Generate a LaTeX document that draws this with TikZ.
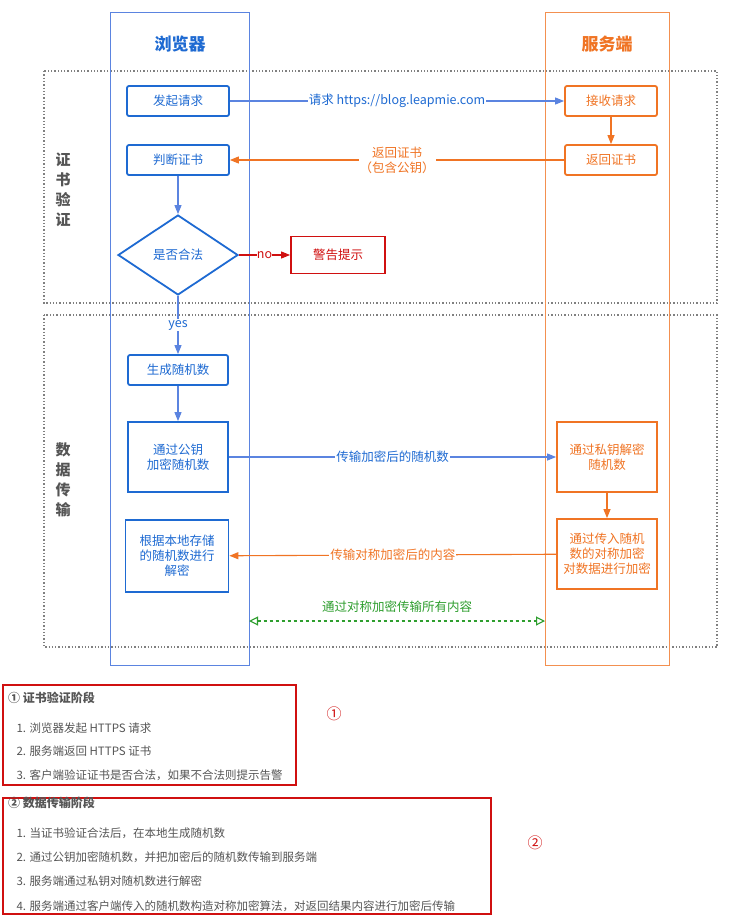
\documentclass[tikz,border=0pt]{standalone}
\usepackage{fontspec}
\setmainfont{Noto Sans CJK SC}
\usetikzlibrary{shapes.geometric,arrows.meta}
\definecolor{bl}{HTML}{1E6AD2}
\definecolor{lane}{HTML}{5B84E0}
\definecolor{og}{HTML}{F07424}
\definecolor{rd}{HTML}{D01010}
\definecolor{gn}{HTML}{2E9E2E}
\definecolor{tx}{HTML}{555555}
\begin{document}
\begin{tikzpicture}[x=1pt,y=-1pt,>={Triangle[length=9pt,width=7pt]},
  bbox/.style={draw=bl,line width=1.8pt,text=bl,font=\fontsize{12.5}{15}\selectfont,align=center,rounded corners=2pt},
  obox/.style={draw=og,line width=1.8pt,text=og,font=\fontsize{12.5}{15}\selectfont,align=center,rounded corners=2pt},
  lbl/.style={fill=white,inner sep=1pt,font=\fontsize{12.5}{15}\selectfont,align=center},
  dots/.style={draw=gray,dotted,line width=1.3pt},
  conn/.style={->,line width=1.1pt},
  item/.style={anchor=west,text=tx,font=\fontsize{11.5}{13}\selectfont},
  head/.style={anchor=west,text=tx,font=\fontsize{12}{14}\selectfont\bfseries}]
\useasboundingbox (0,0) rectangle (748,918);
\fill[white] (0,0) rectangle (748,918);
% phases
\draw[dots] (44,71) rectangle (717,303);
\draw[dots] (44,315) rectangle (717,647);
\node[text=tx,font=\fontsize{15}{20}\selectfont\bfseries,align=center] (p1) at (63,190) {证\\书\\验\\证};
\node[text=tx,font=\fontsize{15}{20}\selectfont\bfseries,align=center] (p2) at (63,480) {数\\据\\传\\输};
% lanes
\draw[lane,line width=1pt] (110,12) rectangle (249,665);
\draw[og!80,line width=1pt] (545,12) rectangle (669,665);
\node[text=bl,font=\fontsize{17}{20}\selectfont\bfseries] (t1) at (180,44) {浏览器};
\node[text=og,font=\fontsize{17}{20}\selectfont\bfseries] (t2) at (607,44) {服务端};
% browser
\node[bbox,minimum width=102,minimum height=30] (fq) at (178,101) {发起请求};
\node[bbox,minimum width=102,minimum height=30] (pd) at (178,160) {判断证书};
\node[draw=bl,line width=1.8pt,text=bl,diamond,aspect=1.5,minimum width=120,minimum height=80,inner sep=0,font=\fontsize{12.5}{15}\selectfont] (hf) at (178,255) {是否合法};
\node[draw=rd,line width=1.8pt,text=rd,minimum width=94,minimum height=37,font=\fontsize{12.5}{15}\selectfont] (jg) at (338,255) {警告提示};
\node[bbox,minimum width=100,minimum height=30] (sc) at (178,370) {生成随机数};
\node[bbox,rounded corners=0,minimum width=100,minimum height=70] (jm) at (178,457) {通过公钥\\加密随机数};
\node[bbox,rounded corners=0,minimum width=103,minimum height=72] (gj) at (177,556) {根据本地存储\\的随机数进行\\解密};
% server
\node[obox,minimum width=92,minimum height=30] (js) at (611,101) {接收请求};
\node[obox,minimum width=92,minimum height=30] (fh) at (611,160) {返回证书};
\node[obox,rounded corners=0,minimum width=100,minimum height=70] (sy) at (607,457) {通过私钥解密\\随机数};
\node[obox,rounded corners=0,minimum width=100,minimum height=70] (dc) at (607,554) {通过传入随机\\数的对称加密\\对数据进行加密};
% connectors
\draw[conn,lane] (fq) -- node[lbl,text=bl]{请求 https://blog.leapmie.com} (js);
\draw[conn,og] (js) -- (fh);
\draw[conn,og] (fh) -- node[lbl,text=og]{返回证书\\（包含公钥）} (pd);
\draw[conn,lane] (pd) -- (hf);
\draw[conn,rd] (hf) -- node[lbl,text=rd,inner sep=0]{no} (jg);
\draw[conn,lane] (hf) -- node[lbl,text=bl]{yes} (sc);
\draw[conn,lane] (sc) -- (jm);
\draw[conn,lane] (jm) -- node[lbl,text=bl]{传输加密后的随机数} (sy);
\draw[conn,og] (sy) -- (dc);
\draw[conn,og] (dc) -- node[lbl,text=og]{传输对称加密后的内容} (gj);
\coordinate (ga) at (249,621);
\coordinate (gb) at (545,621);
\draw[gn,dashed,line width=1.1pt,{Triangle[open,length=9pt,width=9pt]}-{Triangle[open,length=9pt,width=9pt]}] (ga) -- node[above=5pt,text=gn,font=\fontsize{12.5}{15}\selectfont]{通过对称加密传输所有内容} (gb);
% notes
\draw[rd,line width=1.6pt] (3,685) rectangle (296,785);
\draw[rd,line width=1.6pt] (3,798) rectangle (491,914);
\node[text=rd,font=\fontsize{15}{18}\selectfont] (c1) at (334,714) {①};
\node[text=rd,font=\fontsize{15}{18}\selectfont] (c2) at (535,843) {②};
\node[head,inner sep=1pt] (h1) at (7,698) {① 证书验证阶段};
\node[item] (a1) at (13,728) {1. 浏览器发起 HTTPS 请求};
\node[item] (a2) at (13,751) {2. 服务端返回 HTTPS 证书};
\node[item] (a3) at (13,775) {3. 客户端验证证书是否合法，如果不合法则提示告警};
\node[head,inner sep=1pt] (h2) at (7,803) {② 数据传输阶段};
\node[item] (b1) at (13,833) {1. 当证书验证合法后，在本地生成随机数};
\node[item] (b2) at (13,857) {2. 通过公钥加密随机数，并把加密后的随机数传输到服务端};
\node[item] (b3) at (13,881) {3. 服务端通过私钥对随机数进行解密};
\node[item] (b4) at (13,906) {4. 服务端通过客户端传入的随机数构造对称加密算法，对返回结果内容进行加密后传输};
\end{tikzpicture}
\end{document}
